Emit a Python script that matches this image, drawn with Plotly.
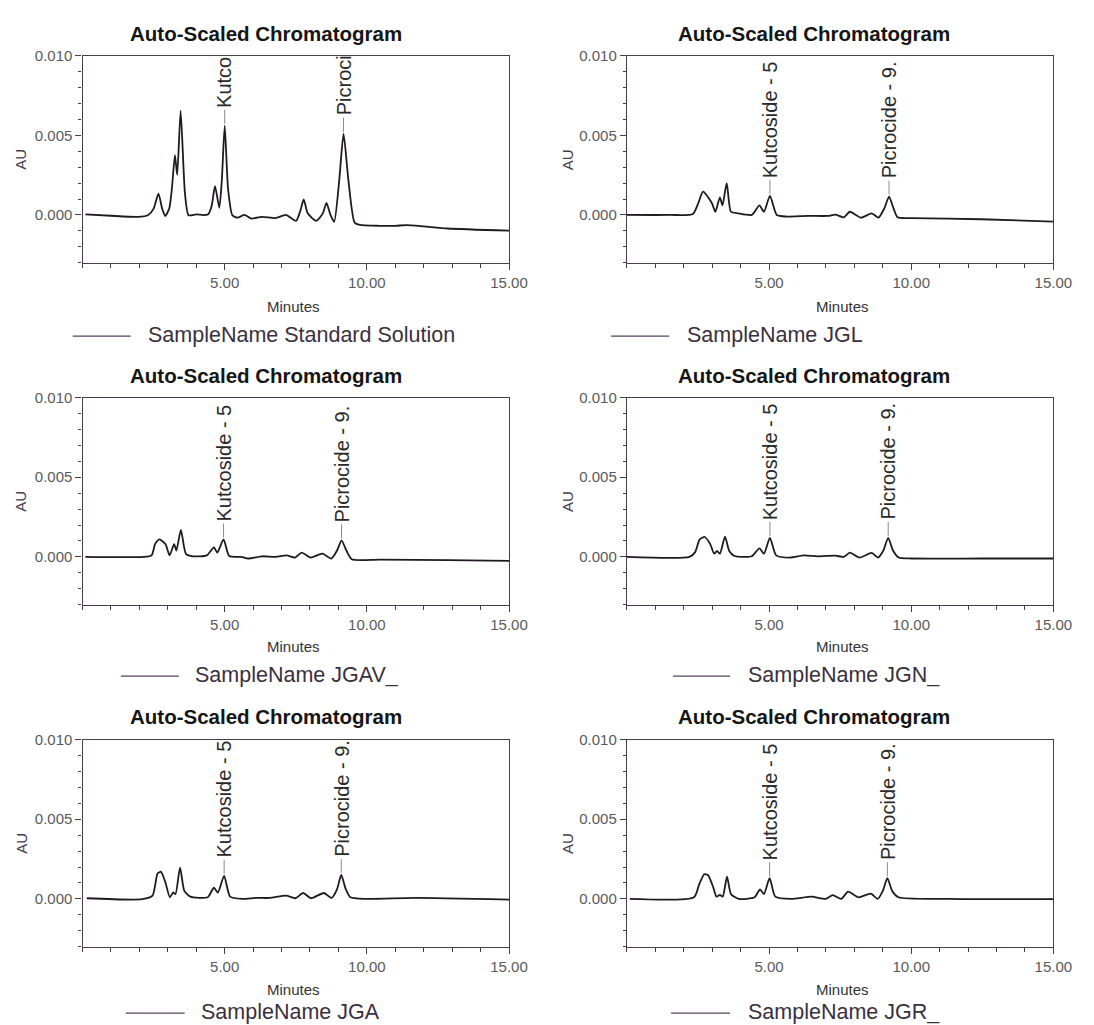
import plotly.graph_objects as go

W, H = 1094, 1025

# ---------------- data ----------------
sample_names = ["SampleName Standard Solution", "SampleName JGL", "SampleName JGAV_",
                "SampleName JGN_", "SampleName JGA", "SampleName JGR_"]
kut_labels = ["Kutco", "Kutcoside - 5", "Kutcoside - 5", "Kutcoside - 5", "Kutcoside - 5", "Kutcoside - 5"]
pic_labels = ["Picroci", "Picrocide - 9.", "Picrocide - 9.", "Picrocide - 9.", "Picrocide - 9.", "Picrocide - 9."]

t_std = [0.1, 1.0, 1.94, 2.3, 2.5, 2.67, 2.8, 2.91, 3.05, 3.15, 3.25, 3.33, 3.45, 3.6, 3.73, 4.0, 4.24, 4.42, 4.54, 4.66,
         4.81, 4.9, 5.0, 5.12, 5.27, 5.45, 5.7, 5.94, 6.3, 6.79, 7.15, 7.51, 7.65, 7.78, 7.92, 8.22, 8.45, 8.58, 8.72, 8.85,
         9.03, 9.18, 9.35, 9.57, 9.75, 10.42, 11.0, 11.39, 12.0, 12.84, 15.0]
au_std = [0.00004, -0.00005, -0.00012, -0.00002, 0.0004, 0.00134, 0.0004, -0.00006, 0.0004, 0.0018,
          0.00376, 0.00252, 0.00655, 0.0014, -0.00002, 0.00004, -0.00001, 0.00004, 0.00056, 0.0018,
          0.00045, 0.0022, 0.0056, 0.0016, -0.00002, -0.00017, 0.0, -0.00023, -0.00012, -0.0002,
          0.0, -0.00037, 0.0002, 0.00097, 0.0001, -0.00037, 0.0001, 0.00076, 0.0, -0.00043,
          0.0022, 0.0051, 0.0022, -0.00048, -0.00062, -0.00068, -0.00068, -0.00064, -0.00072, -0.00085, -0.00099]

t_jgl = [0.0, 1.5, 2.32, 2.5, 2.68, 2.99, 3.11, 3.27, 3.36, 3.51, 3.66, 3.91, 4.39, 4.66, 4.82, 5.03, 5.27, 5.62, 6.35, 7.08,
         7.33, 7.63, 7.84, 8.24, 8.61, 8.85, 9.05, 9.22, 9.38, 9.52, 10.01, 12.46, 15.0]
au_jgl = [0.0, 0.0, 0.00006, 0.0007, 0.00146, 0.00073, 0.0002, 0.0011, 0.0006, 0.002,
          0.0002, 0.0001, 0.0, 0.0006, 0.0002, 0.0012, 0.0, -0.0001, -0.00006, -0.00006,
          0.00002, -0.00015, 0.0002, -0.00017, 0.0001, -0.00017, 0.0004, 0.00115, 0.0004, -0.00015,
          -0.0002, -0.00027, -0.00042]

t_jgav = [0.1, 2.13, 2.43, 2.55, 2.7, 2.92, 3.06, 3.22, 3.3, 3.46, 3.64, 3.89, 4.37, 4.62, 4.74, 4.96, 5.16, 5.59, 5.83, 6.32,
          6.8, 7.17, 7.47, 7.71, 8.02, 8.44, 8.75, 8.95, 9.11, 9.28, 9.47, 10.45, 12.9, 15.0]
au_jgav = [0.0, 0.0, 0.0001, 0.0008, 0.0011, 0.0008, 0.0001, 0.0008, 0.0004, 0.0017,
           0.00017, 0.00004, 0.0001, 0.0006, 0.00027, 0.0011, 0.00006, 0.0, -0.0001, 0.00004,
           0.0, 0.0001, -0.00004, 0.00027, -0.00004, 0.0002, -0.0001, 0.0004, 0.00104, 0.0004,
           -0.00015, -0.00017, -0.0002, -0.00025]

t_jgn = [0.0, 2.2, 2.4, 2.56, 2.74, 2.93, 3.07, 3.17, 3.27, 3.45, 3.6, 3.78, 4.39, 4.66, 4.82, 5.03, 5.25, 5.74, 6.23, 6.71,
         7.33, 7.63, 7.84, 8.18, 8.61, 8.83, 9.02, 9.19, 9.36, 9.56, 10.01, 12.46, 15.0]
au_jgn = [0.0, 0.0, 0.0003, 0.0011, 0.00125, 0.0008, 0.0002, 0.00037, 0.0002, 0.00127,
          0.00037, 0.00006, 0.00004, 0.00054, 0.0002, 0.0012, 0.0001, -0.00004, 0.0001, 0.00004,
          0.00008, 0.0, 0.00027, -0.00004, 0.00025, -0.00004, 0.0004, 0.0012, 0.0004, -0.00004,
          -0.0001, -0.0001, -0.0001]

t_jga = [0.15, 2.1, 2.46, 2.64, 2.76, 2.92, 3.07, 3.19, 3.27, 3.43, 3.58, 3.79, 4.4, 4.62, 4.76, 4.98, 5.19, 5.61, 6.1, 6.58,
         7.16, 7.49, 7.76, 8.03, 8.49, 8.76, 8.95, 9.1, 9.26, 9.42, 9.97, 11.67, 15.0]
au_jga = [0.00004, -0.00002, 0.0002, 0.0016, 0.0017, 0.001, 0.0001, 0.0004, 0.0003, 0.00196,
          0.0005, 0.00014, 0.0001, 0.0007, 0.0004, 0.00145, 0.00014, 0.0, 0.00006, 0.00006,
          0.0002, 0.00004, 0.00037, 0.00004, 0.00037, 0.00006, 0.0006, 0.0015, 0.0006, 0.0001,
          0.0, 0.00006, -0.00004]

t_jgr = [0.1, 2.36, 2.54, 2.72, 2.85, 3.03, 3.15, 3.27, 3.37, 3.52, 3.66, 3.94, 4.49, 4.68, 4.82, 5.02, 5.22, 5.77, 6.5, 6.99,
         7.24, 7.54, 7.78, 8.15, 8.58, 8.82, 9.0, 9.16, 9.33, 9.55, 11.26, 15.0]
au_jgr = [0.0, 0.0001, 0.0009, 0.00155, 0.0015, 0.00076, 0.00014, 0.00025, 0.00014, 0.0014,
          0.0003, 0.0, 0.0001, 0.0006, 0.0003, 0.0013, 0.00014, 0.0, 0.00014, 0.0,
          0.00023, 0.0, 0.00045, 0.0001, 0.00033, 0.0, 0.0005, 0.0013, 0.0005, 0.0001,
          0.0, -0.00002]

x_tickvals = [5, 10, 15]
x_ticktext = ["5.00", "10.00", "15.00"]
y_tickvals = [0.0, 0.005, 0.010]
y_ticktext = ["0.000", "0.005", "0.010"]

series_t = [t_std, t_jgl, t_jgav, t_jgn, t_jga, t_jgr]
series_v = [au_std, au_jgl, au_jgav, au_jgn, au_jga, au_jgr]

# ---------------- layout geometry (pixels) ----------------
def px(x):
    return x / W

def py(y):
    return 1 - y / H

col_x = [(84, 518), (638, 1072)]
row_y = [(47, 256), (392, 601), (737, 946)]
title_x = [271, 828]
title_y = [25, 370, 714]
minutes_x = [299, 857]
minutes_y = [300, 643, 989]
au_x = [21, 577]
legend_geo = [  # line x0, line x1, text x0, y
    (74, 133, 149, 329), (622, 681, 697, 329),
    (123, 182, 196, 672), (685, 743, 759, 672),
    (128, 188, 203, 1012), (683, 743, 759, 1012),
]

FONT = "Liberation Sans, Arial, sans-serif"
FRAME = "#4a3a4e"
TRACE = "#221824"
TICKC = "#5a5a5a"

fig = go.Figure()
layout = dict(width=W, height=H, margin=dict(l=0, r=0, t=0, b=0),
              paper_bgcolor="white", plot_bgcolor="white", showlegend=False,
              font=dict(family=FONT))
annotations = []
shapes = []

for i in range(6):
    r, c = divmod(i, 2)
    n = i + 1
    xa = "xaxis" if n == 1 else f"xaxis{n}"
    ya = "yaxis" if n == 1 else f"yaxis{n}"
    xr = "x" if n == 1 else f"x{n}"
    yr = "y" if n == 1 else f"y{n}"
    x0, x1 = col_x[c]
    y0, y1 = row_y[r]
    layout[xa] = dict(domain=[px(x0), px(x1)], anchor=yr, range=[0, 15],
                      tickmode="array", tickvals=x_tickvals, ticktext=x_ticktext,
                      ticks="outside", ticklen=6, tickwidth=1, tickcolor=FRAME,
                      showline=True, linecolor=FRAME, linewidth=1.3, mirror=True,
                      showgrid=False, zeroline=False,
                      tickfont=dict(size=15, color=TICKC, family=FONT),
                      minor=dict(tickmode="linear", tick0=0, dtick=1, ticks="outside",
                                 ticklen=4, tickcolor=FRAME, showgrid=False),
                      fixedrange=True)
    layout[ya] = dict(domain=[py(y1), py(y0)], anchor=xr, range=[-0.003, 0.010],
                      tickmode="array", tickvals=y_tickvals, ticktext=y_ticktext,
                      ticks="outside", ticklen=6, tickwidth=1, tickcolor=FRAME,
                      showline=True, linecolor=FRAME, linewidth=1.3, mirror=True,
                      showgrid=False, zeroline=False,
                      tickfont=dict(size=15, color=TICKC, family=FONT),
                      minor=dict(tickmode="linear", tick0=0, dtick=0.001, ticks="outside",
                                 ticklen=3, tickcolor=FRAME, showgrid=False),
                      fixedrange=True)

    tt, vv = series_t[i], series_v[i]
    fig.add_trace(go.Scatter(x=tt, y=vv, mode="lines", xaxis=xr, yaxis=yr,
                             line=dict(color=TRACE, width=1.8, shape="spline", smoothing=0.6),
                             hoverinfo="skip"))

    # peak labels (Kutcoside ~5 min, Picrocide ~9.2 min) taken from the data maxima
    for (lo, hi, label) in [(4.85, 5.2, kut_labels[i]), (8.95, 9.45, pic_labels[i])]:
        cand = [(v, t) for t, v in zip(tt, vv) if lo <= t <= hi]
        pv, pt = max(cand)
        shapes.append(dict(type="line", xref=xr, yref=yr, x0=pt, x1=pt,
                           y0=pv + 0.00012, y1=pv + 0.001,
                           line=dict(color="#8a8a8a", width=1)))
        annotations.append(dict(xref=xr, yref=yr, x=pt, y=pv + 0.001, text=label,
                                textangle=-90, xanchor="center", yanchor="bottom",
                                showarrow=False, font=dict(size=20, color="#2a2a2a", family=FONT)))

    # titles and axis labels
    annotations.append(dict(xref="paper", yref="paper", x=px(title_x[c]), y=py(title_y[r]),
                            text="<b>Auto-Scaled Chromatogram</b>", showarrow=False,
                            xanchor="center", yanchor="middle",
                            font=dict(size=20.5, color="#151515", family=FONT)))
    annotations.append(dict(xref="paper", yref="paper", x=px(minutes_x[c]), y=py(minutes_y[r]),
                            text="Minutes", showarrow=False, xanchor="center", yanchor="middle",
                            font=dict(size=15, color="#333333", family=FONT)))
    annotations.append(dict(xref="paper", yref="paper", x=px(au_x[c]), y=py((y0 + y1) / 2),
                            text="AU", showarrow=False, textangle=-90, xanchor="center",
                            yanchor="middle", font=dict(size=15, color="#4a3a4e", family=FONT)))

    # legend line + sample name
    lx0, lx1, tx0, ly = legend_geo[i]
    shapes.append(dict(type="line", xref="paper", yref="paper", x0=px(lx0), x1=px(lx1),
                       y0=py(ly + 1), y1=py(ly + 1), line=dict(color="#5a4060", width=1.3)))
    annotations.append(dict(xref="paper", yref="paper", x=px(tx0), y=py(ly),
                            text=sample_names[i], showarrow=False, xanchor="left", yanchor="middle",
                            font=dict(size=21.5, color="#3a3040", family=FONT)))

layout["annotations"] = annotations
layout["shapes"] = shapes
fig.update_layout(**layout)
fig.write_html("out.html")
